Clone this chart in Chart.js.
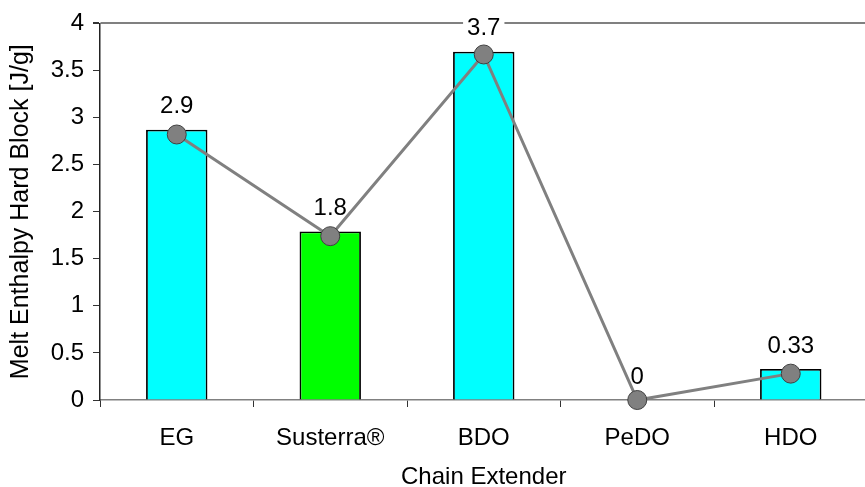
<!DOCTYPE html>
<html>
<head>
<meta charset="utf-8">
<script src="https://cdn.jsdelivr.net/npm/chart.js@4/dist/chart.umd.min.js"></script>
<style>
  html, body { margin: 0; padding: 0; background: #fff; overflow: hidden; }
  canvas { display: block; }
</style>
</head>
<body>
<canvas id="chart" width="878" height="487"></canvas>
<script>
// Chain extenders compared
const categories = ['EG', 'Susterra®', 'BDO', 'PeDO', 'HDO'];
// Melt enthalpy of the hard block, J/g (bars)
const barValues = [2.87, 1.79, 3.70, 0, 0.33];
// Same property as a connected trend (line with markers)
const lineValues = [2.82, 1.74, 3.67, 0, 0.28];
// Bar fill per chain extender
const barColors = ['#00FFFF', '#00FF00', '#00FFFF', '#00FFFF', '#00FFFF'];
// Value axis ticks
const yTicks = [0, 0.5, 1, 1.5, 2, 2.5, 3, 3.5, 4];
const yTickLabels = ['0', '0.5', '1', '1.5', '2', '2.5', '3', '3.5', '4'];

const FONT = '"Liberation Sans", Arial, Helvetica, sans-serif';
const FONT_SIZE = 24;

function labelText(v) {
  return String(parseFloat(v.toPrecision(2)));
}

// Bar value labels, two significant digits. The white box goes under the
// series (it only masks the frame line), the text goes over everything.
const valueLabels = {
  id: 'valueLabels',
  beforeDatasetsDraw(chart) {
    const ctx = chart.ctx;
    const meta = chart.getDatasetMeta(1);
    ctx.save();
    ctx.font = FONT_SIZE + 'px ' + FONT;
    meta.data.forEach((bar, i) => {
      const w = ctx.measureText(labelText(barValues[i])).width;
      const y = bar.y - 24;
      ctx.fillStyle = '#fff';
      ctx.fillRect(bar.x - w / 2 - 4, y - 9, w + 8, 18);
    });
    ctx.restore();
  },
  afterDatasetsDraw(chart) {
    const ctx = chart.ctx;
    const meta = chart.getDatasetMeta(1);
    ctx.save();
    ctx.font = FONT_SIZE + 'px ' + FONT;
    ctx.textAlign = 'center';
    ctx.textBaseline = 'middle';
    ctx.fillStyle = '#000';
    meta.data.forEach((bar, i) => {
      ctx.fillText(labelText(barValues[i]), bar.x, bar.y - 23);
    });
    ctx.restore();
  }
};

new Chart(document.getElementById('chart'), {
  data: {
    labels: categories,
    datasets: [
      {
        type: 'line',
        data: lineValues,
        order: 0,
        borderColor: '#808080',
        borderWidth: 3,
        pointRadius: 9.5,
        pointHoverRadius: 9.5,
        pointBackgroundColor: '#808080',
        pointBorderColor: '#404040',
        pointBorderWidth: 1,
        tension: 0,
        clip: false
      },
      {
        type: 'bar',
        data: barValues,
        order: 1,
        backgroundColor: barColors,
        borderColor: '#000',
        borderWidth: 1.8,
        barPercentage: 0.4,
        categoryPercentage: 1,
        clip: false
      }
    ]
  },
  options: {
    responsive: false,
    devicePixelRatio: 1,
    animation: false,
    events: [],
    layout: { padding: { top: 22, left: 0, right: 0, bottom: 0 } },
    plugins: {
      legend: { display: false },
      tooltip: { enabled: false }
    },
    scales: {
      x: {
        type: 'category',
        offset: true,
        grid: {
          offset: true,
          drawOnChartArea: false,
          drawTicks: true,
          tickLength: 7,
          tickColor: '#333'
        },
        border: { display: true, color: '#808080', width: 1.5 },
        ticks: {
          color: '#000',
          padding: 17,
          font: { family: FONT, size: FONT_SIZE },
          maxRotation: 0,
          autoSkip: false
        },
        title: {
          display: true,
          text: 'Chain Extender',
          color: '#000',
          font: { family: FONT, size: FONT_SIZE, lineHeight: 0.8 },
          padding: { top: 0, bottom: 0 }
        },
        afterFit(scale) { scale.height = 87; }
      },
      y: {
        type: 'linear',
        min: 0,
        max: 4,
        afterBuildTicks(scale) {
          scale.ticks = yTicks.map(v => ({ value: v }));
        },
        grid: {
          drawOnChartArea: true,
          drawTicks: true,
          tickLength: 7,
          color: ctx => (ctx.tick && ctx.tick.value === 4 ? '#808080' : 'rgba(0,0,0,0)'),
          tickColor: '#333',
          lineWidth: ctx => (ctx.tick && ctx.tick.value === 4 ? 2 : 1)
        },
        border: { display: true, color: '#222', width: 1.5 },
        ticks: {
          color: '#000',
          padding: 9,
          font: { family: FONT, size: FONT_SIZE },
          callback: (value) => {
            const i = yTicks.indexOf(value);
            return i >= 0 ? yTickLabels[i] : '';
          }
        },
        title: {
          display: true,
          text: 'Melt Enthalpy Hard Block [J/g]',
          color: '#000',
          font: { family: FONT, size: 25 },
          padding: { top: 6, bottom: 0 }
        },
        afterFit(scale) { scale.width = 100; }
      }
    }
  },
  plugins: [valueLabels]
});
</script>
</body>
</html>
